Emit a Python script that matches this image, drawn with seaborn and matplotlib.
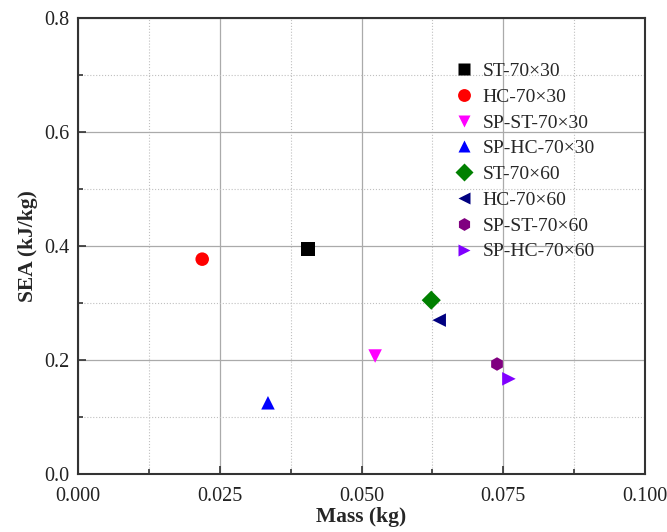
import matplotlib
matplotlib.use("Agg")
import matplotlib.pyplot as plt
import seaborn as sns
import pandas as pd
from matplotlib.ticker import MultipleLocator, FormatStrFormatter

labels = ["ST-70×30", "HC-70×30", "SP-ST-70×30", "SP-HC-70×30",
          "ST-70×60", "HC-70×60", "SP-ST-70×60", "SP-HC-70×60"]
mass = [0.0406, 0.0219, 0.0524, 0.0335, 0.0623, 0.0637, 0.0739, 0.0760]
sea = [0.395, 0.377, 0.207, 0.125, 0.305, 0.270, 0.193, 0.167]
colors = ["black", "red", "magenta", "blue", "green", "navy", "purple", "#8000ff"]
markers = ["s", "o", "v", "^", "D", "<", "h", ">"]

df = pd.DataFrame({"Mass": mass, "SEA": sea, "Sample": labels})

sns.set_style("ticks")
plt.rcParams["font.family"] = ["Liberation Serif", "DejaVu Serif"]

fig = plt.figure(figsize=(6.67, 5.32), dpi=100)
ax = fig.add_axes([0.117, 0.109, 0.850, 0.857])

sns.scatterplot(data=df, x="Mass", y="SEA", hue="Sample", style="Sample",
                palette=dict(zip(labels, colors)), markers=dict(zip(labels, markers)),
                hue_order=labels, style_order=labels, s=95, edgecolor="none", ax=ax, zorder=3)

ax.set_xlim(0, 0.1)
ax.set_ylim(0, 0.8)
ax.xaxis.set_major_locator(MultipleLocator(0.025))
ax.xaxis.set_minor_locator(MultipleLocator(0.0125))
ax.yaxis.set_major_locator(MultipleLocator(0.2))
ax.yaxis.set_minor_locator(MultipleLocator(0.1))
ax.xaxis.set_major_formatter(FormatStrFormatter("%.3f"))
ax.yaxis.set_major_formatter(FormatStrFormatter("%.1f"))
ax.grid(True, which="major", color="#aaaaaa", linewidth=0.9)
ax.grid(True, which="minor", color="#c0c0c0", linewidth=0.8, linestyle=":")
ax.set_axisbelow(True)
ax.tick_params(which="both", direction="in", labelsize=14.5, width=1.2, colors="#333333",
               labelcolor="#222222")
ax.tick_params(which="major", length=6)
ax.tick_params(which="minor", length=3.5)
ax.tick_params(axis="x", pad=9)
ax.tick_params(axis="y", pad=6)
for sp in ax.spines.values():
    sp.set_linewidth(1.5)
    sp.set_color("#333333")

ax.set_xlabel("Mass (kg)", fontsize=15.5, fontweight="bold", labelpad=1)
ax.set_ylabel("SEA (kJ/kg)", fontsize=15.5, fontweight="bold", labelpad=5)

ax.legend(loc="upper left", frameon=False, fontsize=14, bbox_to_anchor=(0.645, 0.92),
          labelspacing=0.42, handletextpad=0.3, handlelength=1.3, markerscale=0.95,
          borderaxespad=0)

fig.savefig("out.png", dpi=100)
